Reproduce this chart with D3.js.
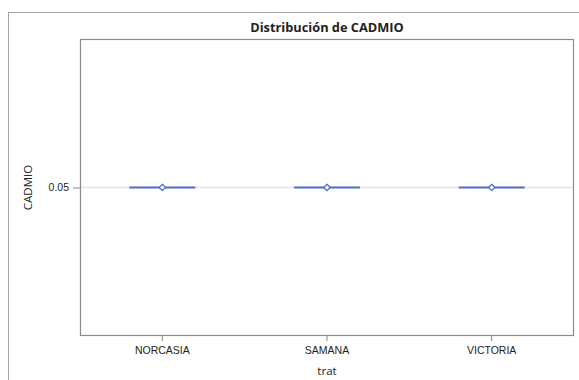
<!DOCTYPE html>
<html>
<head>
<meta charset="utf-8">
<script src="https://cdn.jsdelivr.net/npm/d3@7"></script>
<style>
  html, body { margin: 0; padding: 0; background: #fff; }
  svg { display: block; }
  text { font-family: "Open Sans", "Liberation Sans", sans-serif; fill: #222; }
</style>
</head>
<body>
<svg id="chart" width="579" height="380"></svg>
<script>
// Treatment groups and their CADMIO box-plot summaries
const categories = ["NORCASIA", "SAMANA", "VICTORIA"];
const q1Values     = [0.05, 0.05, 0.05];
const medianValues = [0.05, 0.05, 0.05];
const q3Values     = [0.05, 0.05, 0.05];
const minValues    = [0.05, 0.05, 0.05];
const maxValues    = [0.05, 0.05, 0.05];
const meanValues   = [0.05, 0.05, 0.05];
const yTicks = [0.05];

const boxes = categories.map((c, i) => ({
  cat: c, q1: q1Values[i], med: medianValues[i], q3: q3Values[i],
  min: minValues[i], max: maxValues[i], mean: meanValues[i]
}));

const svg = d3.select("#chart");
const W = 579, H = 380;
const plot = { left: 80, top: 39, right: 574, bottom: 336 };
const blue = "#4a6fc4";

// Outer graph frame (extends past the window on right and bottom)
svg.append("rect")
  .attr("x", 8.5).attr("y", 12.5)
  .attr("width", W + 10).attr("height", H + 10)
  .attr("fill", "none").attr("stroke", "#a6a6a6").attr("stroke-width", 1);

const x = d3.scaleBand().domain(categories).range([plot.left, plot.right]);
const y = d3.scaleLinear().domain([0.04, 0.06]).range([plot.bottom, plot.top]);

// Reference line at the tick value
svg.append("g").selectAll("line").data(yTicks).join("line")
  .attr("x1", plot.left).attr("x2", plot.right)
  .attr("y1", d => y(d)).attr("y2", d => y(d))
  .attr("stroke", "#e4e4e4").attr("stroke-width", 1.5);

// Boxes (collapsed, since all quartiles coincide)
const boxW = x.bandwidth() * 0.4;
const g = svg.append("g");
g.selectAll("rect.box").data(boxes).join("rect")
  .attr("class", "box")
  .attr("x", d => x(d.cat) + x.bandwidth() / 2 - boxW / 2)
  .attr("y", d => y(d.q3))
  .attr("width", boxW)
  .attr("height", d => Math.max(0, y(d.q1) - y(d.q3)))
  .attr("fill", "none").attr("stroke", blue).attr("stroke-width", 1.2);
g.selectAll("line.median").data(boxes).join("line")
  .attr("class", "median")
  .attr("x1", d => x(d.cat) + x.bandwidth() / 2 - boxW / 2)
  .attr("x2", d => x(d.cat) + x.bandwidth() / 2 + boxW / 2)
  .attr("y1", d => y(d.med)).attr("y2", d => y(d.med))
  .attr("stroke", blue).attr("stroke-width", 2);
g.selectAll("line.whisker").data(boxes).join("line")
  .attr("class", "whisker")
  .attr("x1", d => x(d.cat) + x.bandwidth() / 2)
  .attr("x2", d => x(d.cat) + x.bandwidth() / 2)
  .attr("y1", d => y(d.min)).attr("y2", d => y(d.max))
  .attr("stroke", blue).attr("stroke-width", 1);

// Mean markers (hollow diamonds)
const diamond = d3.symbol().type(d3.symbolDiamond2).size(26);
g.selectAll("path.mean").data(boxes).join("path")
  .attr("class", "mean")
  .attr("d", diamond)
  .attr("transform", d => `translate(${x(d.cat) + x.bandwidth() / 2},${y(d.mean)})`)
  .attr("fill", "#fff").attr("stroke", blue).attr("stroke-width", 1.3);

// Axes
const xAxis = svg.append("g")
  .attr("transform", `translate(0,${plot.bottom})`)
  .call(d3.axisBottom(x).tickSize(5).tickPadding(6));
const yAxis = svg.append("g")
  .attr("transform", `translate(${plot.left},0)`)
  .call(d3.axisLeft(y).tickValues(yTicks).tickFormat(d3.format(".2f")).tickSize(7).tickPadding(4));
[xAxis, yAxis].forEach(a => {
  a.select(".domain").remove();
  a.selectAll(".tick line").attr("stroke", "#888");
  a.selectAll(".tick text").attr("font-size", 10.5).attr("fill", "#222")
    .style("font-family", "'Liberation Sans', Arial, sans-serif");
});

// Plot frame
svg.append("rect")
  .attr("x", plot.left + 0.5).attr("y", plot.top + 0.5)
  .attr("width", plot.right - plot.left - 1).attr("height", plot.bottom - plot.top - 1)
  .attr("fill", "none").attr("stroke", "#8c8c8c").attr("stroke-width", 1.2);

// Title and axis labels
svg.append("text")
  .attr("x", (plot.left + plot.right) / 2).attr("y", 32)
  .attr("text-anchor", "middle").attr("font-size", 12.8).attr("font-weight", "bold")
  .text("Distribución de CADMIO");
svg.append("text")
  .attr("x", (plot.left + plot.right) / 2).attr("y", 375)
  .attr("text-anchor", "middle").attr("font-size", 11.5)
  .text("trat");
svg.append("text")
  .attr("transform", `translate(32,${y(0.05)}) rotate(-90)`)
  .attr("text-anchor", "middle").attr("font-size", 11.5)
  .text("CADMIO");
</script>
</body>
</html>
